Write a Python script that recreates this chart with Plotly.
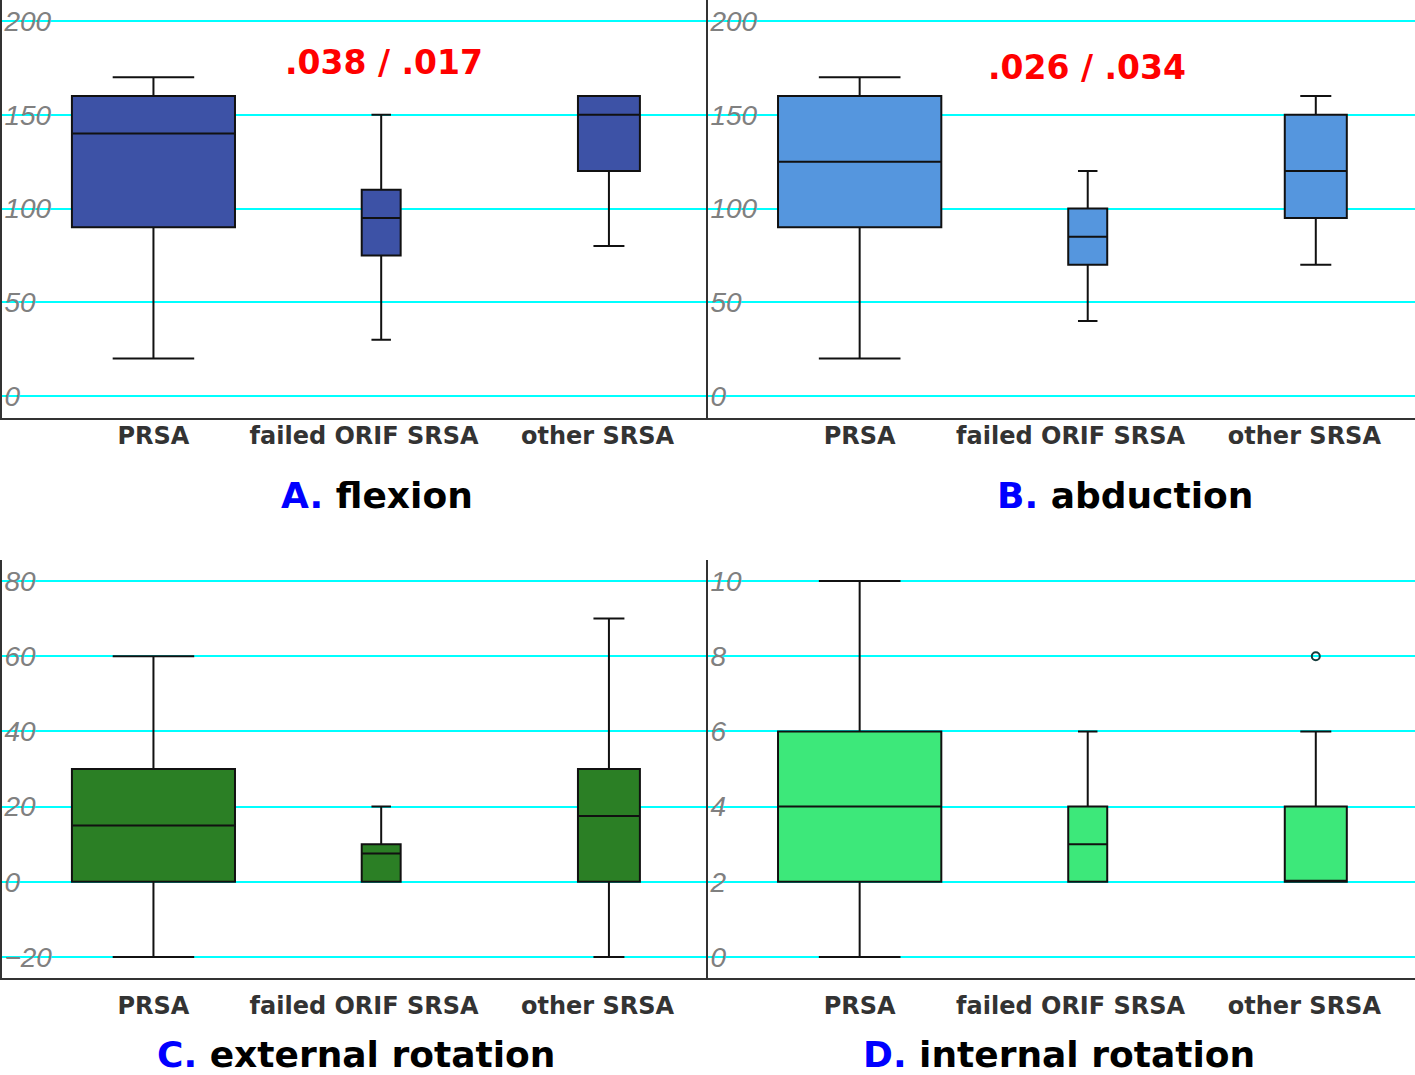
import plotly.graph_objects as go

# ---------------- data ----------------
categories = ["PRSA", "failed ORIF SRSA", "other SRSA"]

flexion_lower = [20, 30, 80]
flexion_q1 = [90, 75, 120]
flexion_median = [140, 95, 150]
flexion_q3 = [160, 110, 160]
flexion_upper = [170, 150, 160]

abduction_lower = [20, 40, 70]
abduction_q1 = [90, 70, 95]
abduction_median = [125, 85, 120]
abduction_q3 = [160, 100, 150]
abduction_upper = [170, 120, 160]

extrot_lower = [-20, 0, -20]
extrot_q1 = [0, 0, 0]
extrot_median = [15, 7.5, 17.5]
extrot_q3 = [30, 10, 30]
extrot_upper = [60, 20, 70]

introt_lower = [0, 2, 2]
introt_q1 = [2, 2, 2]
introt_median = [4, 3, 2]
introt_q3 = [6, 4, 4]
introt_upper = [10, 6, 6]
introt_outlier_cat = ["other SRSA"]
introt_outlier_val = [8]

flexion_pvals = ".038 / .017"
abduction_pvals = ".026 / .034"

ytick_flexion = [0, 50, 100, 150, 200]
ytick_abduction = [0, 50, 100, 150, 200]
ytick_extrot = [-20, 0, 20, 40, 60, 80]
ytick_introt = [0, 2, 4, 6, 8, 10]

# ---------------- styles ----------------
W, H = 1415, 1075
box_widths = [0.716, 0.171, 0.272]
label_shift = [0.0, -0.075, -0.05]
xrange_ = [-0.665, 2.435]


def px_x(p):
    return p / W


def px_y(p):
    return 1 - p / H


panels = [
    dict(key="", lower=flexion_lower, q1=flexion_q1, med=flexion_median, q3=flexion_q3,
         upper=flexion_upper, fill="#3D52A6", yrange=[-11.73, 211.2], ticks=ytick_flexion,
         xdom=[px_x(2), px_x(708)], ydom=[px_y(418), px_y(0)], xstand=-5,
         title="<span style='color:#0000FF'>A.</span> flexion", tpos=(377, 495)),
    dict(key="2", lower=abduction_lower, q1=abduction_q1, med=abduction_median, q3=abduction_q3,
         upper=abduction_upper, fill="#5596DE", yrange=[-11.73, 211.2], ticks=ytick_abduction,
         xdom=[px_x(708), 1.0], ydom=[px_y(418), px_y(0)], xstand=-5,
         title="<span style='color:#0000FF'>B.</span> abduction", tpos=(1125, 495)),
    dict(key="3", lower=extrot_lower, q1=extrot_q1, med=extrot_median, q3=extrot_q3,
         upper=extrot_upper, fill="#2B7F25", yrange=[-25.59, 85.59], ticks=ytick_extrot,
         xdom=[px_x(2), px_x(708)], ydom=[px_y(978), px_y(560)], xstand=5,
         title="<span style='color:#0000FF'>C.</span> external rotation", tpos=(356, 1054)),
    dict(key="4", lower=introt_lower, q1=introt_q1, med=introt_median, q3=introt_q3,
         upper=introt_upper, fill="#3DE87A", yrange=[-0.559, 10.559], ticks=ytick_introt,
         xdom=[px_x(708), 1.0], ydom=[px_y(978), px_y(560)], xstand=5,
         title="<span style='color:#0000FF'>D.</span> internal rotation", tpos=(1059, 1054)),
]

fig = go.Figure()
layout = dict(
    width=W, height=H,
    margin=dict(l=0, r=0, t=0, b=0),
    paper_bgcolor="white", plot_bgcolor="white",
    showlegend=False, boxmode="overlay",
    annotations=[],
)

for p in panels:
    k = p["key"]
    xa, ya = "x" + k, "y" + k
    for i, cat in enumerate(categories):
        fig.add_trace(go.Box(
            x=[i], q1=[p["q1"][i]], median=[p["med"][i]], q3=[p["q3"][i]],
            lowerfence=[p["lower"][i]], upperfence=[p["upper"][i]],
            width=box_widths[i], whiskerwidth=0.5,
            fillcolor=p["fill"], line=dict(color="#111111", width=2),
            boxpoints=False, name=cat, xaxis=xa, yaxis=ya, hoverinfo="y",
        ))
    layout["xaxis" + k] = dict(
        domain=p["xdom"], anchor=ya, range=xrange_,
        tickvals=[i + s for i, s in enumerate(label_shift)], ticktext=categories,
        tickfont=dict(family="DejaVu Sans", size=24, color="#333333", weight="bold"),
        ticklabelstandoff=p["xstand"],
        showgrid=False, zeroline=False, showline=True, linecolor="#333333", linewidth=2,
        ticks="", fixedrange=True,
    )
    layout["yaxis" + k] = dict(
        domain=p["ydom"], anchor=xa, range=p["yrange"],
        tickvals=p["ticks"], ticklabelposition="inside", ticklabelstandoff=5,
        tickfont=dict(family="Liberation Sans", size=28, color="#808080", style="italic"),
        showgrid=True, gridcolor="#00FFFF", gridwidth=2,
        zeroline=True, zerolinecolor="#00FFFF", zerolinewidth=2,
        showline=True, linecolor="#333333", linewidth=2, ticks="", fixedrange=True,
    )
    layout["annotations"].append(dict(
        text=p["title"], x=px_x(p["tpos"][0]), y=px_y(p["tpos"][1]),
        xref="paper", yref="paper", showarrow=False, xanchor="center", yanchor="middle",
        font=dict(family="DejaVu Sans", size=36, color="black", weight="bold"),
    ))

# outlier in internal rotation
fig.add_trace(go.Scatter(
    x=[categories.index(c) for c in introt_outlier_cat], y=introt_outlier_val,
    mode="markers", xaxis="x4", yaxis="y4",
    marker=dict(symbol="circle-open", size=8, color="#143c3c", line=dict(width=2)),
    hoverinfo="y",
))

# p-value annotations
layout["annotations"].append(dict(
    text=flexion_pvals, x=px_x(384), y=px_y(63), xref="paper", yref="paper",
    showarrow=False, xanchor="center", yanchor="middle",
    font=dict(family="DejaVu Sans", size=33, color="#FF0000", weight="bold")))
layout["annotations"].append(dict(
    text=abduction_pvals, x=px_x(1087), y=px_y(68), xref="paper", yref="paper",
    showarrow=False, xanchor="center", yanchor="middle",
    font=dict(family="DejaVu Sans", size=33, color="#FF0000", weight="bold")))

fig.update_layout(**layout)
fig.write_html(
    "out.html",
    config={"displayModeBar": False},
    post_script="document.body.style.margin='0';document.body.style.padding='0';"
                "document.documentElement.style.overflow='hidden';",
)
